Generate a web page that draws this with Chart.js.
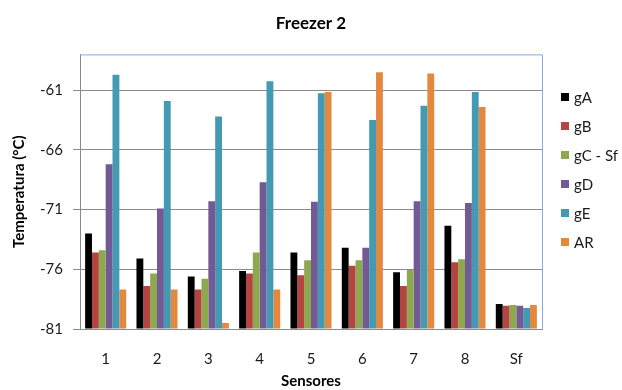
<!DOCTYPE html>
<html>
<head>
<meta charset="utf-8">
<title>Freezer 2</title>
<script src="https://cdn.jsdelivr.net/npm/chart.js@4"></script>
<style>
  html, body { margin: 0; padding: 0; background: #ffffff; }
  #wrap { width: 622px; height: 390px; position: relative; }
</style>
</head>
<body>
<div id="wrap"><canvas id="chart"></canvas></div>
<script>
// Sensor positions along the x axis
const sensores = ['1', '2', '3', '4', '5', '6', '7', '8', 'Sf'];

// Temperature readings (°C) per group
const gA  = [-73.0, -75.1, -76.6, -76.15, -74.6, -74.2, -76.25, -72.35, -78.9];
const gB  = [-74.6, -77.4, -77.7, -76.35, -76.5, -75.7, -77.4, -75.4, -79.05];
const gC  = [-74.4, -76.35, -76.8, -74.6, -75.25, -75.25, -76.05, -75.15, -79.0];
const gD  = [-67.2, -70.9, -70.3, -68.7, -70.35, -74.2, -70.3, -70.45, -79.05];
const gE  = [-59.7, -61.9, -63.2, -60.25, -61.25, -63.5, -62.3, -61.15, -79.25];
const AR  = [-77.7, -77.7, -80.5, -77.7, -61.15, -59.5, -59.6, -62.4, -79.0];

const seriesNames = ['gA', 'gB', 'gC - Sf', 'gD', 'gE', 'AR'];
const seriesColors = ['#000000', '#B3443F', '#8EA84F', '#725A95', '#4499B3', '#E4883E'];

// Value axis
const yMin = -81;
const yMax = -58;
const yTicks = [-81, -76, -71, -66, -61];

const FONT = 'Lato, "Open Sans", sans-serif';

// Frame around the plot area (top and right edges in blue)
const plotFrame = {
  id: 'plotFrame',
  beforeDatasetsDraw(chart) {
    const { ctx, chartArea: a } = chart;
    ctx.save();
    ctx.strokeStyle = '#86AADB';
    ctx.lineWidth = 1;
    ctx.beginPath();
    ctx.moveTo(a.left, a.top + 0.5);
    ctx.lineTo(a.right + 0.5, a.top + 0.5);
    ctx.lineTo(a.right + 0.5, a.bottom);
    ctx.stroke();
    ctx.restore();
  }
};

// Legend column on the right side
const sideLegend = {
  id: 'sideLegend',
  afterDraw(chart) {
    const { ctx } = chart;
    ctx.save();
    ctx.font = '15px ' + FONT;
    ctx.textBaseline = 'middle';
    ctx.textAlign = 'left';
    chart.data.datasets.forEach((ds, i) => {
      const cy = 97 + i * 29;
      ctx.fillStyle = ds.backgroundColor;
      ctx.fillRect(561, cy - 4, 8, 8);
      ctx.fillStyle = '#1a1a1a';
      ctx.fillText(ds.label, 574, cy + 1);
    });
    ctx.restore();
  }
};

const seriesValues = [gA, gB, gC, gD, gE, AR];

new Chart(document.getElementById('chart'), {
  type: 'bar',
  data: {
    labels: sensores,
    datasets: seriesValues.map((vals, i) => ({
      label: seriesNames[i],
      data: vals,
      backgroundColor: seriesColors[i],
      borderWidth: 0,
      base: yMin,
      categoryPercentage: 0.8,
      barPercentage: 1.0
    }))
  },
  options: {
    responsive: true,
    maintainAspectRatio: false,
    animation: false,
    devicePixelRatio: 1,
    layout: { padding: 0 },
    plugins: {
      legend: { display: false },
      tooltip: { enabled: false },
      title: {
        display: true,
        text: 'Freezer 2',
        color: '#000000',
        font: { family: FONT, size: 17, weight: 'bold' },
        padding: { top: 13, bottom: 21 }
      }
    },
    scales: {
      x: {
        grid: { display: false, drawTicks: false },
        border: { display: true, color: '#8c8c8c', width: 1 },
        ticks: {
          color: '#1a1a1a',
          font: { family: FONT, size: 15 },
          padding: 21
        },
        title: {
          display: true,
          text: 'Sensores',
          color: '#000000',
          font: { family: FONT, size: 15, weight: 'bold' },
          padding: { top: 2, bottom: 0 }
        },
        afterFit(scale) { scale.height = 61; }
      },
      y: {
        min: yMin,
        max: yMax,
        afterBuildTicks(scale) {
          scale.ticks = yTicks.map(v => ({ value: v }));
        },
        grid: {
          color: '#8a8a8a',
          lineWidth: 1,
          drawTicks: true,
          tickLength: 7
        },
        border: { display: true, color: '#8a8a8a', width: 1 },
        ticks: {
          color: '#1a1a1a',
          font: { family: FONT, size: 15 },
          padding: 10
        },
        title: {
          display: true,
          text: 'Temperatura (°C)',
          color: '#000000',
          font: { family: FONT, size: 15, weight: 'bold' },
          padding: { top: 10, bottom: 0 }
        },
        afterFit(scale) { scale.width = 80; }
      },
      // Empty right-hand axis that keeps room for the legend column
      legendSpace: {
        type: 'linear',
        position: 'right',
        display: true,
        grid: { display: false, drawTicks: false },
        border: { display: false },
        ticks: { display: false },
        afterFit(scale) { scale.width = 80; }
      }
    }
  },
  plugins: [plotFrame, sideLegend]
});
</script>
</body>
</html>
